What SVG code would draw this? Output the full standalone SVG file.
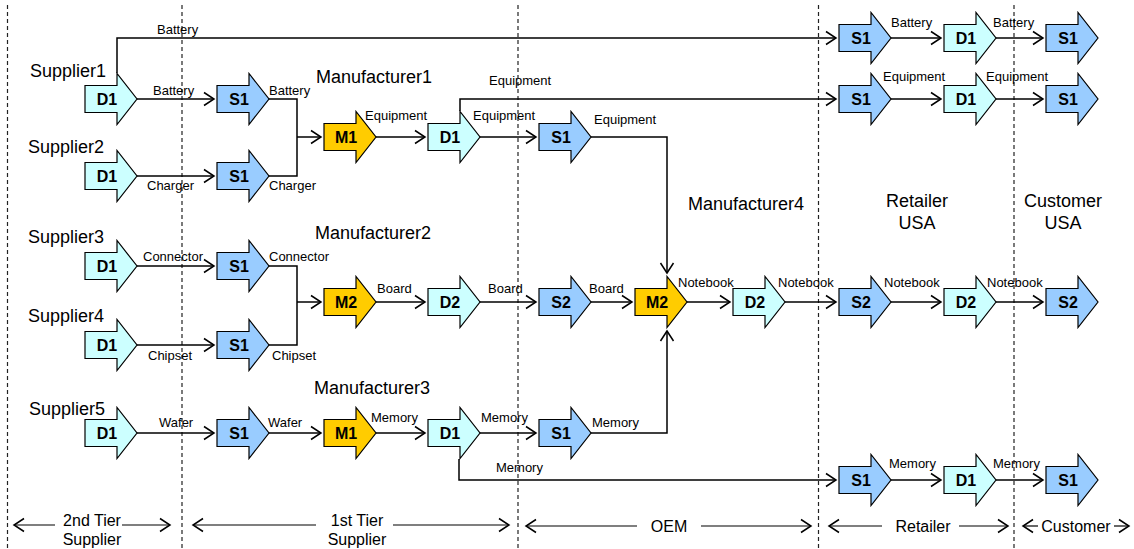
<svg xmlns="http://www.w3.org/2000/svg" xmlns:xlink="http://www.w3.org/1999/xlink" width="1134" height="549" viewBox="0 0 1134 549">
  <style>
    .d { fill: #CCFFFF; }
    .s { fill: #99CCFF; }
    .m { fill: #FFCC00; }
    .shape { stroke: #000; stroke-width: 1.2; stroke-linejoin: miter; }
    .nl { font-family: "Liberation Sans", Arial, sans-serif; font-size: 16px; font-weight: bold; text-anchor: middle; fill: #000; }
    .cl { font-family: "Liberation Sans", Arial, sans-serif; font-size: 13px; fill: #000; }
    .hd { font-family: "Liberation Sans", Arial, sans-serif; font-size: 18px; fill: #000; }
    .ft { font-family: "Liberation Sans", Arial, sans-serif; font-size: 16px; fill: #000; text-anchor: middle; }
    .conn { fill: none; stroke: #000; stroke-width: 1.5; }
    .span { fill: none; stroke: #000; stroke-width: 1.2; }
    .lane { fill: none; stroke: #222; stroke-width: 1.2; stroke-dasharray: 4 3; }
  </style>
  <defs>
    <!-- block arrow used for every stage: body 32 wide, head 20 long -->
    <path id="blk" class="shape" d="M0,-13.5 H32 V-25.5 L52,0 L32,25.5 V13.5 H0 Z"/>
    <marker id="open" viewBox="-12 -9 14 18" refX="0" refY="0" markerWidth="14" markerHeight="18" markerUnits="userSpaceOnUse" orient="auto">
      <path d="M-10,-6.5 L0,0 L-10,6.5" fill="none" stroke="#000" stroke-width="1.5"/>
    </marker>
  </defs>

  <!-- lane separators -->
  <g id="lanes">
    <line class="lane" x1="7.5" y1="5" x2="7.5" y2="549"/>
    <line class="lane" x1="182" y1="5" x2="182" y2="549"/>
    <line class="lane" x1="518" y1="5" x2="518" y2="549"/>
    <line class="lane" x1="818.5" y1="5" x2="818.5" y2="549"/>
    <line class="lane" x1="1014" y1="5" x2="1014" y2="549"/>
  </g>

  <!-- material flows -->
  <g id="connectors">
    <!-- battery direct to retail -->
    <polyline class="conn" points="117,73 117,38 836,38" marker-end="url(#open)"/>
    <line class="conn" x1="891" y1="38" x2="941" y2="38" marker-end="url(#open)"/>
    <line class="conn" x1="996" y1="38" x2="1043" y2="38" marker-end="url(#open)"/>
    <!-- supplier1 / supplier2 into manufacturer1 -->
    <line class="conn" x1="137" y1="99" x2="214" y2="99" marker-end="url(#open)"/>
    <line class="conn" x1="137" y1="176" x2="214" y2="176" marker-end="url(#open)"/>
    <polyline class="conn" points="268,99 297,99 297,176 268,176"/>
    <line class="conn" x1="297" y1="137" x2="321" y2="137" marker-end="url(#open)"/>
    <line class="conn" x1="376" y1="137" x2="425" y2="137" marker-end="url(#open)"/>
    <line class="conn" x1="479" y1="137" x2="536" y2="137" marker-end="url(#open)"/>
    <polyline class="conn" points="591,137 667,137 667,273" marker-end="url(#open)"/>
    <!-- equipment direct to retail -->
    <polyline class="conn" points="460,111 460,99 836,99" marker-end="url(#open)"/>
    <line class="conn" x1="891" y1="99" x2="941" y2="99" marker-end="url(#open)"/>
    <line class="conn" x1="996" y1="99" x2="1043" y2="99" marker-end="url(#open)"/>
    <!-- supplier3 / supplier4 into manufacturer2 -->
    <line class="conn" x1="137" y1="266" x2="214" y2="266" marker-end="url(#open)"/>
    <line class="conn" x1="137" y1="345" x2="214" y2="345" marker-end="url(#open)"/>
    <polyline class="conn" points="268,266 297,266 297,345 268,345"/>
    <line class="conn" x1="297" y1="302" x2="321" y2="302" marker-end="url(#open)"/>
    <line class="conn" x1="376" y1="302" x2="425" y2="302" marker-end="url(#open)"/>
    <line class="conn" x1="479" y1="302" x2="536" y2="302" marker-end="url(#open)"/>
    <line class="conn" x1="591" y1="302" x2="632" y2="302" marker-end="url(#open)"/>
    <line class="conn" x1="687" y1="302" x2="730" y2="302" marker-end="url(#open)"/>
    <line class="conn" x1="785" y1="302" x2="836" y2="302" marker-end="url(#open)"/>
    <line class="conn" x1="891" y1="302" x2="941" y2="302" marker-end="url(#open)"/>
    <line class="conn" x1="996" y1="302" x2="1043" y2="302" marker-end="url(#open)"/>
    <!-- supplier5 through manufacturer3 -->
    <line class="conn" x1="137" y1="433" x2="214" y2="433" marker-end="url(#open)"/>
    <line class="conn" x1="268" y1="433" x2="321" y2="433" marker-end="url(#open)"/>
    <line class="conn" x1="376" y1="433" x2="425" y2="433" marker-end="url(#open)"/>
    <line class="conn" x1="479" y1="433" x2="536" y2="433" marker-end="url(#open)"/>
    <polyline class="conn" points="591,433 667,433 667,331" marker-end="url(#open)"/>
    <!-- memory direct to retail -->
    <polyline class="conn" points="459,459 459,480 836,480" marker-end="url(#open)"/>
    <line class="conn" x1="891" y1="480" x2="941" y2="480" marker-end="url(#open)"/>
    <line class="conn" x1="996" y1="480" x2="1043" y2="480" marker-end="url(#open)"/>
  </g>

  <!-- flow labels -->
  <g id="flow-labels" class="cl">
    <text x="157" y="34">Battery</text>
    <text x="153" y="95">Battery</text>
    <text x="269" y="95">Battery</text>
    <text x="147" y="190">Charger</text>
    <text x="269" y="190">Charger</text>
    <text x="365" y="120">Equipment</text>
    <text x="473" y="120">Equipment</text>
    <text x="489" y="85">Equipment</text>
    <text x="594" y="124">Equipment</text>
    <text x="891" y="27">Battery</text>
    <text x="993" y="27">Battery</text>
    <text x="883" y="81">Equipment</text>
    <text x="986" y="81">Equipment</text>
    <text x="143" y="261">Connector</text>
    <text x="269" y="261">Connector</text>
    <text x="148" y="360">Chipset</text>
    <text x="272" y="360">Chipset</text>
    <text x="377" y="293">Board</text>
    <text x="488" y="293">Board</text>
    <text x="589" y="293">Board</text>
    <text x="678" y="287">Notebook</text>
    <text x="778" y="287">Notebook</text>
    <text x="884" y="287">Notebook</text>
    <text x="987" y="287">Notebook</text>
    <text x="159" y="427">Wafer</text>
    <text x="268" y="427">Wafer</text>
    <text x="371" y="422">Memory</text>
    <text x="481" y="422">Memory</text>
    <text x="592" y="427">Memory</text>
    <text x="496" y="472">Memory</text>
    <text x="889" y="468">Memory</text>
    <text x="993" y="468">Memory</text>
  </g>

  <!-- stage nodes -->
  <g id="sup1-d1"><use href="#blk" x="85" y="99" class="d"/><text class="nl" x="107" y="105">D1</text></g>
  <g id="tier1-s1-battery"><use href="#blk" x="217" y="99" class="s"/><text class="nl" x="239" y="105">S1</text></g>
  <g id="sup2-d1"><use href="#blk" x="85" y="176" class="d"/><text class="nl" x="107" y="182">D1</text></g>
  <g id="tier1-s1-charger"><use href="#blk" x="217" y="176" class="s"/><text class="nl" x="239" y="182">S1</text></g>
  <g id="mfr1-m1"><use href="#blk" x="324" y="137" class="m"/><text class="nl" x="346" y="143">M1</text></g>
  <g id="mfr1-d1"><use href="#blk" x="428" y="137" class="d"/><text class="nl" x="450" y="143">D1</text></g>
  <g id="oem-s1-equipment"><use href="#blk" x="539" y="137" class="s"/><text class="nl" x="561" y="143">S1</text></g>

  <g id="ret-s1-battery"><use href="#blk" x="839" y="38" class="s"/><text class="nl" x="861" y="44">S1</text></g>
  <g id="ret-d1-battery"><use href="#blk" x="944" y="38" class="d"/><text class="nl" x="966" y="44">D1</text></g>
  <g id="cus-s1-battery"><use href="#blk" x="1046" y="38" class="s"/><text class="nl" x="1068" y="44">S1</text></g>
  <g id="ret-s1-equipment"><use href="#blk" x="839" y="99" class="s"/><text class="nl" x="861" y="105">S1</text></g>
  <g id="ret-d1-equipment"><use href="#blk" x="944" y="99" class="d"/><text class="nl" x="966" y="105">D1</text></g>
  <g id="cus-s1-equipment"><use href="#blk" x="1046" y="99" class="s"/><text class="nl" x="1068" y="105">S1</text></g>

  <g id="sup3-d1"><use href="#blk" x="85" y="266" class="d"/><text class="nl" x="107" y="272">D1</text></g>
  <g id="tier1-s1-connector"><use href="#blk" x="217" y="266" class="s"/><text class="nl" x="239" y="272">S1</text></g>
  <g id="sup4-d1"><use href="#blk" x="85" y="345" class="d"/><text class="nl" x="107" y="351">D1</text></g>
  <g id="tier1-s1-chipset"><use href="#blk" x="217" y="345" class="s"/><text class="nl" x="239" y="351">S1</text></g>
  <g id="mfr2-m2"><use href="#blk" x="324" y="302" class="m"/><text class="nl" x="346" y="308">M2</text></g>
  <g id="mfr2-d2"><use href="#blk" x="428" y="302" class="d"/><text class="nl" x="450" y="308">D2</text></g>
  <g id="oem-s2-board"><use href="#blk" x="539" y="302" class="s"/><text class="nl" x="561" y="308">S2</text></g>
  <g id="mfr4-m2"><use href="#blk" x="635" y="302" class="m"/><text class="nl" x="657" y="308">M2</text></g>
  <g id="mfr4-d2"><use href="#blk" x="733" y="302" class="d"/><text class="nl" x="755" y="308">D2</text></g>
  <g id="ret-s2-notebook"><use href="#blk" x="839" y="302" class="s"/><text class="nl" x="861" y="308">S2</text></g>
  <g id="ret-d2-notebook"><use href="#blk" x="944" y="302" class="d"/><text class="nl" x="966" y="308">D2</text></g>
  <g id="cus-s2-notebook"><use href="#blk" x="1046" y="302" class="s"/><text class="nl" x="1068" y="308">S2</text></g>

  <g id="sup5-d1"><use href="#blk" x="85" y="433" class="d"/><text class="nl" x="107" y="439">D1</text></g>
  <g id="tier1-s1-wafer"><use href="#blk" x="217" y="433" class="s"/><text class="nl" x="239" y="439">S1</text></g>
  <g id="mfr3-m1"><use href="#blk" x="324" y="433" class="m"/><text class="nl" x="346" y="439">M1</text></g>
  <g id="mfr3-d1"><use href="#blk" x="428" y="433" class="d"/><text class="nl" x="450" y="439">D1</text></g>
  <g id="oem-s1-memory"><use href="#blk" x="539" y="433" class="s"/><text class="nl" x="561" y="439">S1</text></g>
  <g id="ret-s1-memory"><use href="#blk" x="839" y="480" class="s"/><text class="nl" x="861" y="486">S1</text></g>
  <g id="ret-d1-memory"><use href="#blk" x="944" y="480" class="d"/><text class="nl" x="966" y="486">D1</text></g>
  <g id="cus-s1-memory"><use href="#blk" x="1046" y="480" class="s"/><text class="nl" x="1068" y="486">S1</text></g>

  <!-- party names -->
  <g id="party-names" class="hd">
    <text x="30" y="77">Supplier1</text>
    <text x="28" y="153">Supplier2</text>
    <text x="28" y="243">Supplier3</text>
    <text x="28" y="322">Supplier4</text>
    <text x="29" y="415">Supplier5</text>
    <text x="316" y="83">Manufacturer1</text>
    <text x="315" y="239">Manufacturer2</text>
    <text x="314" y="394">Manufacturer3</text>
    <text x="688" y="210">Manufacturer4</text>
    <text x="917" y="207" text-anchor="middle">Retailer</text>
    <text x="917" y="229" text-anchor="middle">USA</text>
    <text x="1063" y="207" text-anchor="middle">Customer</text>
    <text x="1063" y="229" text-anchor="middle">USA</text>
  </g>

  <!-- tier spans -->
  <g id="tier-spans">
    <line class="span" x1="55" y1="525" x2="14" y2="525" marker-end="url(#open)"/>
    <line class="span" x1="122" y1="525" x2="170" y2="525" marker-end="url(#open)"/>
    <text class="ft" x="92" y="526">2nd Tier</text>
    <text class="ft" x="92" y="545">Supplier</text>

    <line class="span" x1="316" y1="525" x2="193" y2="525" marker-end="url(#open)"/>
    <line class="span" x1="393" y1="525" x2="509" y2="525" marker-end="url(#open)"/>
    <text class="ft" x="357" y="526">1st Tier</text>
    <text class="ft" x="357" y="545">Supplier</text>

    <line class="span" x1="637" y1="526" x2="526" y2="526" marker-end="url(#open)"/>
    <line class="span" x1="701" y1="526" x2="811" y2="526" marker-end="url(#open)"/>
    <text class="ft" x="669" y="532">OEM</text>

    <line class="span" x1="882" y1="526" x2="829" y2="526" marker-end="url(#open)"/>
    <line class="span" x1="959" y1="526" x2="1008" y2="526" marker-end="url(#open)"/>
    <text class="ft" x="923" y="532">Retailer</text>

    <line class="span" x1="1038" y1="526" x2="1023" y2="526" marker-end="url(#open)"/>
    <line class="span" x1="1114" y1="526" x2="1129" y2="526" marker-end="url(#open)"/>
    <text class="ft" x="1076" y="532">Customer</text>
  </g>
</svg>
